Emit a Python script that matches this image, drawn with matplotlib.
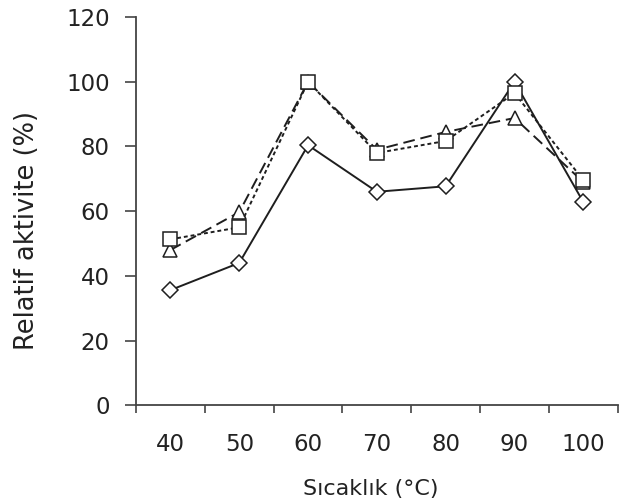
import matplotlib
matplotlib.use("Agg")
import matplotlib.pyplot as plt

# ---------------------------------------------------------------
# DATA
# ---------------------------------------------------------------
temps = ['40', '50', '60', '70', '80', '90', '100']
diamond_vals = [35.6, 44.0, 80.4, 66.0, 67.7, 100.0, 62.8]
square_vals = [51.3, 55.0, 100.0, 78.0, 81.7, 96.5, 69.6]
triangle_vals = [48.0, 59.7, 100.0, 79.0, 84.5, 88.8, 69.0]

yticks = [0, 20, 40, 60, 80, 100, 120]

plt.rcParams['font.family'] = ['DejaVu Sans']

fig = plt.figure(figsize=(6.24, 5.04), dpi=100)
ax = fig.add_axes([0.218, 0.196, 0.772, 0.770])

x = range(len(temps))
ink = '#1e1e1e'
txt = '#222222'

ax.plot(x, diamond_vals, color=ink, lw=1.4, ls='-', marker='D', ms=8.5,
        mfc='white', mec=ink, mew=1.1, zorder=3)
ax.plot(x, triangle_vals, color=ink, lw=1.4, ls=(0, (6, 3)), marker='^', ms=10,
        mfc='white', mec=ink, mew=1.1, zorder=4)
ax.plot(x, square_vals, color=ink, lw=1.4, ls=(0, (2, 1.5)), marker='s', ms=9.5,
        mfc='white', mec=ink, mew=1.1, zorder=5)

ax.set_xlim(-0.5, len(temps) - 0.5)
ax.set_ylim(0, 120)
ax.set_yticks(yticks)
ax.set_xticks(list(x))
ax.set_xticklabels(temps)
ax.set_xticks([i - 0.5 for i in range(len(temps) + 1)], minor=True)

ax.tick_params(axis='x', which='major', length=0, pad=20, labelsize=16.5, colors=txt)
ax.tick_params(axis='x', which='minor', length=6, width=1.2, color='#444444')
ax.tick_params(axis='y', length=8, width=1.2, color='#444444', pad=11,
               labelsize=16.5, labelcolor=txt)

for side in ['top', 'right']:
    ax.spines[side].set_visible(False)
for side in ['left', 'bottom']:
    ax.spines[side].set_color('#444444')
    ax.spines[side].set_linewidth(1.3)

ax.set_xlabel('Sıcaklık (°C)', fontsize=16, color=txt)
ax.xaxis.set_label_coords(0.487, -0.19)
ax.set_ylabel('Relatif aktivite (%)', fontsize=18.5, color=txt)
ax.yaxis.set_label_coords(-0.2, 0.45)

fig.savefig('out.png', dpi=100)
plt.close(fig)
